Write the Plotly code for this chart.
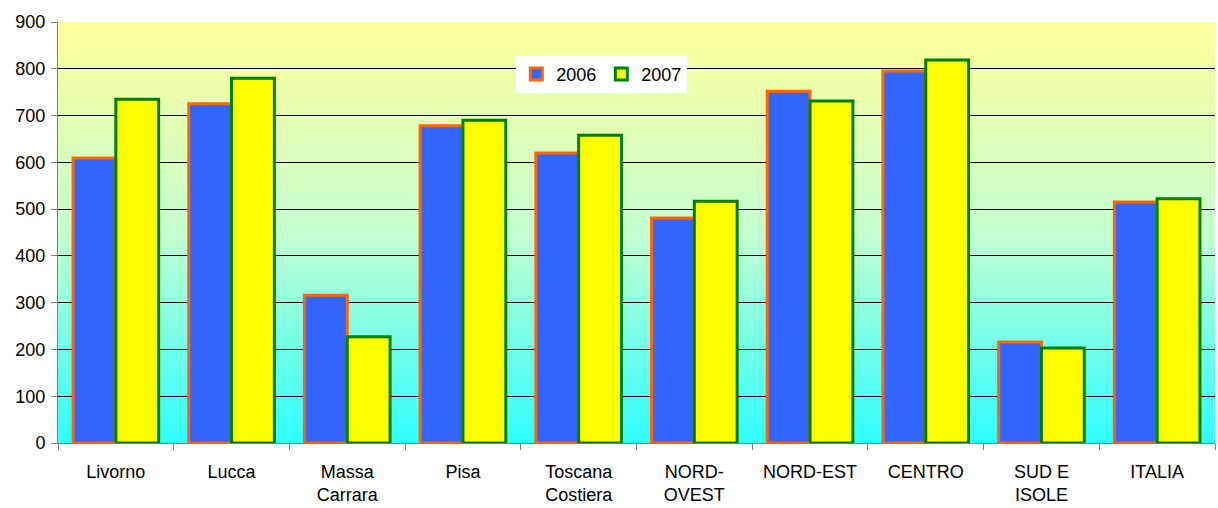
import base64
import plotly.graph_objects as go

categories = ["Livorno", "Lucca", "Massa<br>Carrara", "Pisa", "Toscana<br>Costiera",
              "NORD-<br>OVEST", "NORD-EST", "CENTRO", "SUD E<br>ISOLE", "ITALIA"]
values_2006 = [609, 725, 316, 678, 620, 481, 752, 795, 216, 515]
values_2007 = [735, 780, 227, 690, 658, 517, 731, 819, 203, 522]

# vertical gradient for the plotting area (light yellow at the top, cyan at the bottom)
gradient_svg = (
    '<svg xmlns="http://www.w3.org/2000/svg" width="100" height="100" preserveAspectRatio="none">'
    '<defs><linearGradient id="g" x1="0" y1="0" x2="0" y2="1">'
    '<stop offset="0" stop-color="#FFFF99"/>'
    '<stop offset="0.5" stop-color="#C4FFD0"/>'
    '<stop offset="1" stop-color="#2EFFFF"/>'
    '</linearGradient></defs>'
    '<rect width="100" height="100" fill="url(#g)"/></svg>'
)
gradient_src = "data:image/svg+xml;base64," + base64.b64encode(gradient_svg.encode()).decode()

fig = go.Figure()
fig.add_trace(go.Bar(
    name="2006", x=categories, y=values_2006,
    marker=dict(color="#3366FF", line=dict(color="#FF6600", width=3))))
fig.add_trace(go.Bar(
    name="2007", x=categories, y=values_2007,
    marker=dict(color="#FFFF00", line=dict(color="#008000", width=3))))

fig.add_layout_image(dict(
    source=gradient_src, xref="paper", yref="paper", x=0, y=1,
    sizex=1, sizey=1, xanchor="left", yanchor="top",
    sizing="stretch", layer="below"))

fig.update_layout(
    width=1218, height=508,
    margin=dict(l=58, r=3, t=22, b=65),
    paper_bgcolor="white", plot_bgcolor="rgba(0,0,0,0)",
    font=dict(family="Arial, Liberation Sans, sans-serif", size=18, color="black"),
    barmode="group", bargap=0.26, bargroupgap=0,
    xaxis=dict(type="category", ticks="outside", tickson="boundaries",
               ticklen=6, tickcolor="#808080", showline=True, linecolor="#808080",
               linewidth=1, showgrid=False, tickfont=dict(size=18),
               ticklabelstandoff=12),
    yaxis=dict(range=[0, 900], dtick=100, ticks="outside", ticklen=6,
               tickcolor="#808080", showline=True, linecolor="#808080", linewidth=1,
               showgrid=True, gridcolor="#000000", gridwidth=1, zeroline=False,
               tickfont=dict(size=18), ticklabelstandoff=2),
    legend=dict(orientation="h", x=0.47, y=0.92, xanchor="center", yanchor="top",
                bgcolor="white", font=dict(size=18), itemwidth=30, tracegroupgap=0),
    showlegend=True,
)

fig.write_html("out.html")
